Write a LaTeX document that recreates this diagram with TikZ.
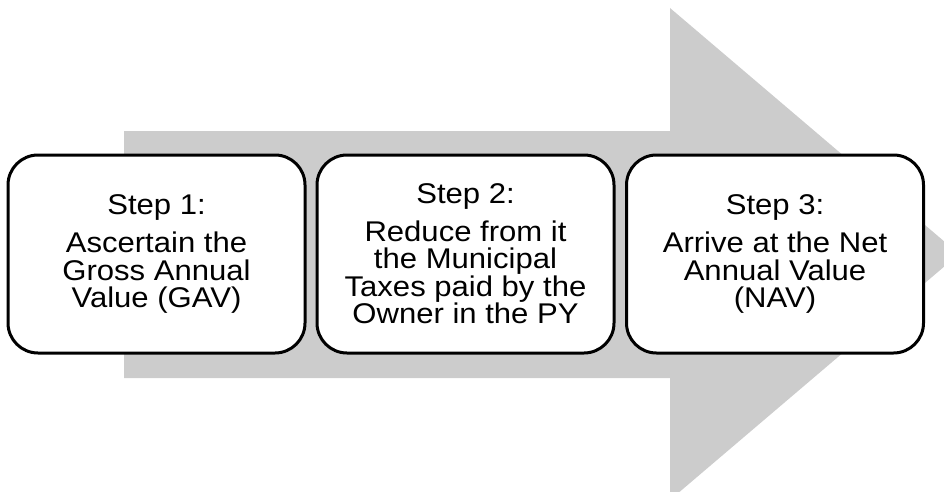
\documentclass[tikz,border=0pt]{standalone}
\usepackage{fontspec}
\setmainfont{Liberation Sans}[FakeStretch=1.09]
\definecolor{arrowgray}{HTML}{CCCCCC}
\begin{document}
\begin{tikzpicture}[x=1pt,y=-1pt,
  stepbox/.style={draw=black, line width=3pt, fill=white, rounded corners=30pt,
    minimum width=297pt, minimum height=198pt, align=center, inner sep=0pt,
    font=\fontsize{28.5}{27.5}\selectfont}]
\useasboundingbox (0,0) rectangle (944,492);
\begin{scope}
\clip (0,0) rectangle (944,492);
\fill[arrowgray] (124,131) -- (670,131) -- (670,8) -- (959,254) -- (670,500) -- (670,378) -- (124,378) -- cycle;
\end{scope}
\node[stepbox] (s1) at (156.5,254) {Step 1:\\[11pt]Ascertain the\\Gross Annual\\Value (GAV)};
\node[stepbox] (s2) at (465.5,254) {Step 2:\\[10pt]Reduce from it\\the Municipal\\Taxes paid by the\\Owner in the PY};
\node[stepbox] (s3) at (775,254) {Step 3:\\[11pt]Arrive at the Net\\Annual Value\\(NAV)};
\end{tikzpicture}
\end{document}
